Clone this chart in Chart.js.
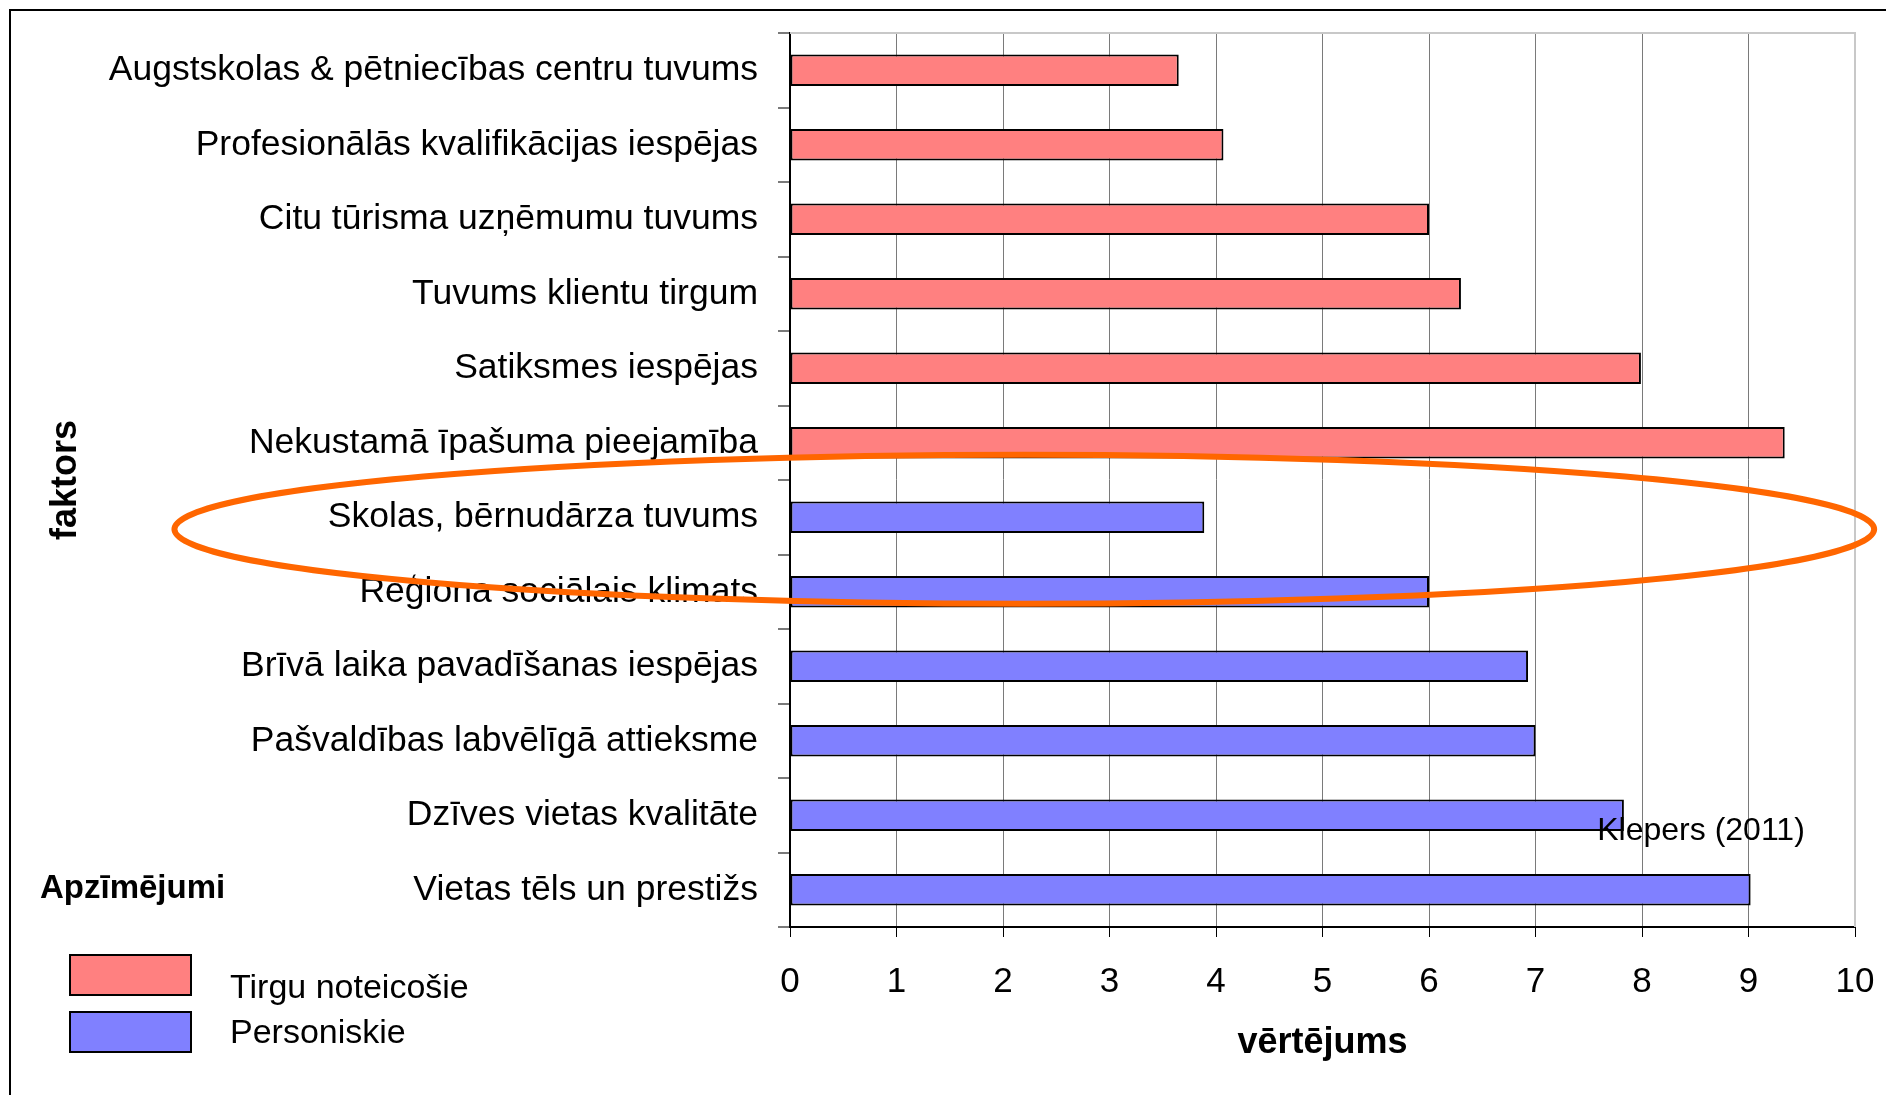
<!DOCTYPE html>
<html>
<head>
<meta charset="utf-8">
<script src="https://cdn.jsdelivr.net/npm/chart.js@4/dist/chart.umd.min.js"></script>
<style>
  body { margin: 0; background: #fff; }
  canvas { display: block; }
</style>
</head>
<body>
<canvas id="myChart" width="1886" height="1095"></canvas>
<script>
const factors = [
  'Augstskolas & pētniecības centru tuvums',
  'Profesionālās kvalifikācijas iespējas',
  'Citu tūrisma uzņēmumu tuvums',
  'Tuvums klientu tirgum',
  'Satiksmes iespējas',
  'Nekustamā īpašuma pieejamība',
  'Skolas, bērnudārza tuvums',
  'Reģiona sociālais klimats',
  'Brīvā laika pavadīšanas iespējas',
  'Pašvaldības labvēlīgā attieksme',
  'Dzīves vietas kvalitāte',
  'Vietas tēls un prestižs',
];
// market-driven factors (first six), personal factors (last six)
const marketScores = [3.65, 4.07, 6.0, 6.3, 7.99, 9.34, null, null, null, null, null, null];
const personalScores = [null, null, null, null, null, null, 3.89, 6.0, 6.93, 7.0, 7.83, 9.02];
const seriesNames = ['Tirgu noteicošie', 'Personiskie'];
const xTicks = [0, 1, 2, 3, 4, 5, 6, 7, 8, 9, 10];

const colors = {
  market: '#FF8080',
  personal: '#8080FF',
  grid: '#7a7a7a',
  frame: '#c8c8c8',
  ring: '#FF6600',
};

Chart.defaults.font.family = "'Liberation Sans', Arial, sans-serif";
Chart.defaults.color = '#000';

// outer frame, plot border, highlight ring, source note, legend
const decorations = {
  id: 'decorations',
  beforeDatasetsDraw(chart) {
    const { ctx, chartArea: a } = chart;
    ctx.save();
    ctx.strokeStyle = colors.frame;
    ctx.lineWidth = 2;
    ctx.beginPath();
    ctx.moveTo(a.left, a.top);
    ctx.lineTo(a.right, a.top);
    ctx.lineTo(a.right, a.bottom);
    ctx.stroke();
    ctx.restore();
  },
  afterDraw(chart) {
    const { ctx } = chart;
    const x = chart.scales.x;
    const y = chart.scales.y;
    ctx.save();

    // page frame
    ctx.strokeStyle = '#000';
    ctx.lineWidth = 2;
    ctx.beginPath();
    ctx.moveTo(10, chart.height);
    ctx.lineTo(10, 10);
    ctx.lineTo(chart.width, 10);
    ctx.stroke();

    // source note
    ctx.fillStyle = '#000';
    ctx.font = "32px 'Liberation Sans', Arial, sans-serif";
    ctx.textAlign = 'left';
    ctx.textBaseline = 'middle';
    ctx.fillText('Klepers (2011)', x.getPixelForValue(7.58), y.getPixelForValue(10) + 16);

    // ring round the school factor
    const cx = x.getPixelForValue(2.2);
    const rx = x.getPixelForValue(10.18) - cx;
    const cy = y.getPixelForValue(6) + 12;
    const ry = y.getPixelForValue(7) - y.getPixelForValue(6);
    ctx.strokeStyle = colors.ring;
    ctx.lineWidth = 6;
    ctx.beginPath();
    ctx.ellipse(cx, cy, rx, ry, 0, 0, Math.PI * 2);
    ctx.stroke();

    // legend
    ctx.fillStyle = '#000';
    ctx.font = "bold 33px 'Liberation Sans', Arial, sans-serif";
    ctx.fillText('Apzīmējumi', 40, 889);
    ctx.font = "34px 'Liberation Sans', Arial, sans-serif";
    const boxes = [955, 1012];
    const textY = [989, 1034];
    chart.data.datasets.forEach((ds, i) => {
      ctx.fillStyle = ds.backgroundColor;
      ctx.fillRect(70, boxes[i], 121, 40);
      ctx.strokeStyle = '#000';
      ctx.lineWidth = 2;
      ctx.strokeRect(70, boxes[i], 121, 40);
      ctx.fillStyle = '#000';
      ctx.fillText(ds.label, 230, textY[i]);
    });
    ctx.restore();
  },
};

const ctx = document.getElementById('myChart').getContext('2d');
new Chart(ctx, {
  type: 'bar',
  data: {
    labels: factors,
    datasets: [
      {
        label: seriesNames[0],
        data: marketScores,
        backgroundColor: colors.market,
        borderColor: '#000',
        borderWidth: 2,
        borderSkipped: false,
        grouped: false,
        categoryPercentage: 1,
        barPercentage: 0.42,
      },
      {
        label: seriesNames[1],
        data: personalScores,
        backgroundColor: colors.personal,
        borderColor: '#000',
        borderWidth: 2,
        borderSkipped: false,
        grouped: false,
        categoryPercentage: 1,
        barPercentage: 0.42,
      },
    ],
  },
  options: {
    indexAxis: 'y',
    responsive: false,
    animation: false,
    layout: { padding: { left: 0, right: 31, top: 33, bottom: 0 } },
    plugins: {
      legend: { display: false },
      tooltip: { enabled: false },
    },
    scales: {
      x: {
        min: 0,
        max: 10,
        afterBuildTicks: (scale) => {
          scale.ticks = xTicks.map((v) => ({ value: v }));
        },
        grid: {
          color: (c) => (c.tick && c.tick.value === 10 ? colors.frame : colors.grid),
          tickColor: '#000',
          tickLength: 10,
          lineWidth: 1,
        },
        border: { color: '#000', width: 2 },
        ticks: { font: { size: 35 }, color: '#000', padding: 24, maxRotation: 0 },
        title: {
          display: true,
          text: 'vērtējums',
          font: { size: 36, weight: 'bold' },
          color: '#000',
          padding: { top: 0, bottom: 30 },
        },
        afterFit: (scale) => {
          scale.height = 168;
          scale.paddingLeft = 0;
          scale.paddingRight = 0;
        },
      },
      y: {
        offset: true,
        grid: {
          offset: true,
          drawOnChartArea: false,
          tickLength: 12,
          color: colors.grid,
          lineWidth: 2,
        },
        border: { color: '#000', width: 2 },
        ticks: { font: { size: 35.5 }, color: '#000', padding: 20, autoSkip: false },
        title: {
          display: true,
          text: 'faktors',
          font: { size: 36, weight: 'bold' },
          color: '#000',
          padding: { top: 44, bottom: 0 },
        },
        afterFit: (scale) => {
          scale.width = 790;
          scale.paddingTop = 0;
          scale.paddingBottom = 0;
        },
      },
    },
  },
  plugins: [decorations],
});
</script>
</body>
</html>
